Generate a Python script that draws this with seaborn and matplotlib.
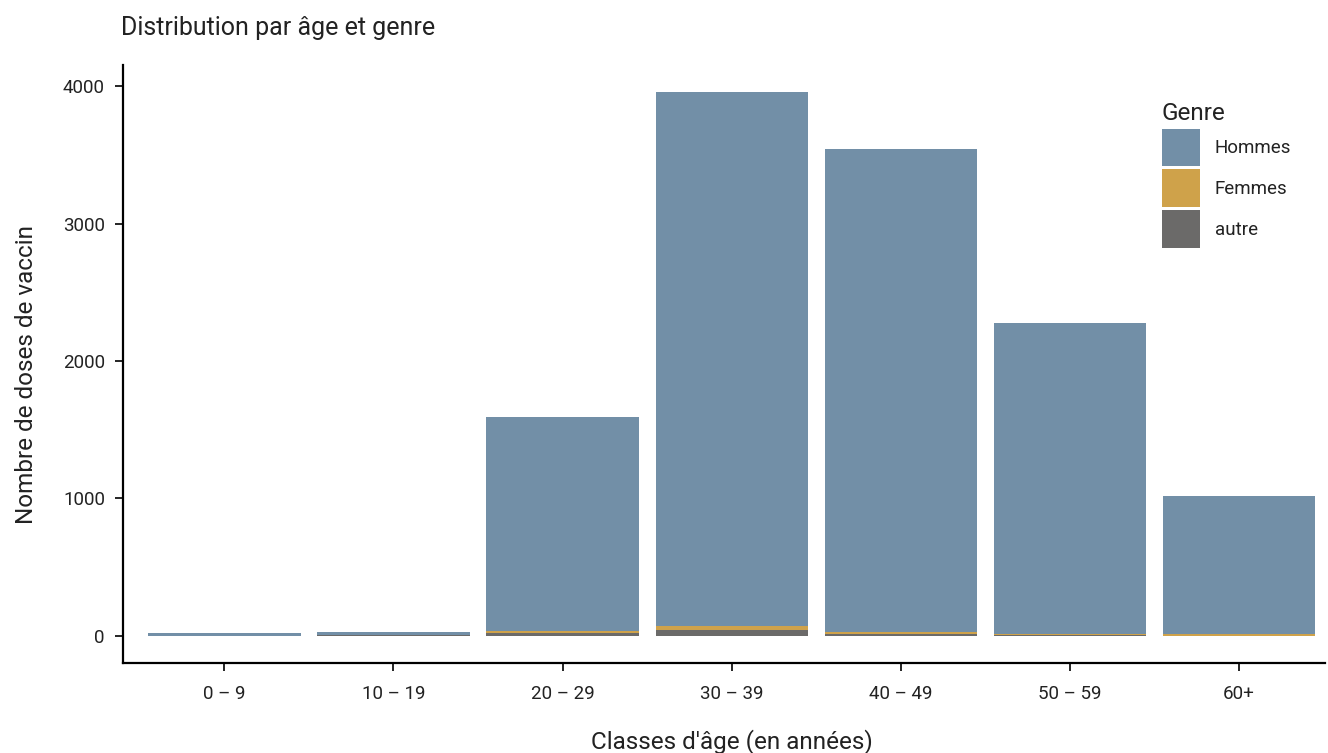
import numpy as np
import pandas as pd
import matplotlib
matplotlib.use("Agg")
import matplotlib.pyplot as plt
import seaborn as sns
from matplotlib.patches import Patch

categories = ["0 – 9", "10 – 19", "20 – 29", "30 – 39", "40 – 49", "50 – 59", "60+"]
hommes = [15, 20, 1558, 3885, 3515, 2263, 1005]
femmes = [2, 1, 15, 31, 15, 7, 9]
autre = [0, 4, 17, 43, 15, 7, 1]
series_names = ["Hommes", "Femmes", "autre"]
colors = {"Hommes": "#728FA7", "Femmes": "#CFA24A", "autre": "#6B6A69"}

sns.set_theme(style="white")
plt.rcParams["font.family"] = ["Roboto", "DejaVu Sans"]

df = pd.DataFrame({"cat": categories, "h": hommes, "f": femmes, "a": autre})
df["total"] = df["h"] + df["f"] + df["a"]
df["fa"] = df["f"] + df["a"]

fig = plt.figure(figsize=(13.28, 7.53), dpi=100)
ax = fig.add_axes([123 / 1328, 1 - 663 / 753, (1325 - 123) / 1328, (663 - 65) / 753])

sns.barplot(data=df, x="cat", y="total", order=categories, color=colors["Hommes"],
            width=0.9, linewidth=0, saturation=1, ax=ax)
sns.barplot(data=df, x="cat", y="fa", order=categories, color=colors["Femmes"],
            width=0.9, linewidth=0, saturation=1, ax=ax)
sns.barplot(data=df, x="cat", y="a", order=categories, color=colors["autre"],
            width=0.9, linewidth=0, saturation=1, ax=ax)

ax.set_xlim(-0.6, 6.51)
ax.set_ylim(-198, 4156)
ax.set_yticks([0, 1000, 2000, 3000, 4000])
ax.set_yticklabels(["0", "1000", "2000", "3000", "4000"])

for s in ["top", "right"]:
    ax.spines[s].set_visible(False)
for s in ["left", "bottom"]:
    ax.spines[s].set_color("black")
    ax.spines[s].set_linewidth(1.6)
ax.tick_params(axis="both", which="major", length=6, width=1.2, color="black",
               labelsize=13.5, labelcolor="#222222", direction="out",
               left=True, bottom=True)
ax.tick_params(axis="y", pad=7)
ax.tick_params(axis="x", pad=10)
ax.grid(False)

ax.set_xlabel("Classes d'âge (en années)", fontsize=17.5, color="#222222")
ax.set_ylabel("Nombre de doses de vaccin", fontsize=17.5, color="#222222")
ax.xaxis.set_label_coords(0.5 + 8 / 1202, (663 - 729) / 598)
ax.yaxis.set_label_coords((38 - 123) / 1202, (663 - 375) / 598)
fig.text(121 / 1328, 1 - 28 / 753, "Distribution par âge et genre", fontsize=18,
         color="#222222", va="center", ha="left")

handles = [Patch(facecolor=colors[n], edgecolor="none", linewidth=0) for n in series_names]
leg = ax.legend(handles, series_names, title="Genre", loc="upper left",
                bbox_to_anchor=((1154 - 123) / (1325 - 123), 1 - (95 - 65) / (663 - 65)),
                frameon=False, fontsize=13.5, title_fontsize=17.5,
                handlelength=2.03, handleheight=2.74, handletextpad=0.8,
                labelspacing=0.16, alignment="left", borderaxespad=0)
for t in leg.get_texts():
    t.set_color("#222222")
leg.get_title().set_color("#222222")

fig.savefig("out.png", dpi=100)
